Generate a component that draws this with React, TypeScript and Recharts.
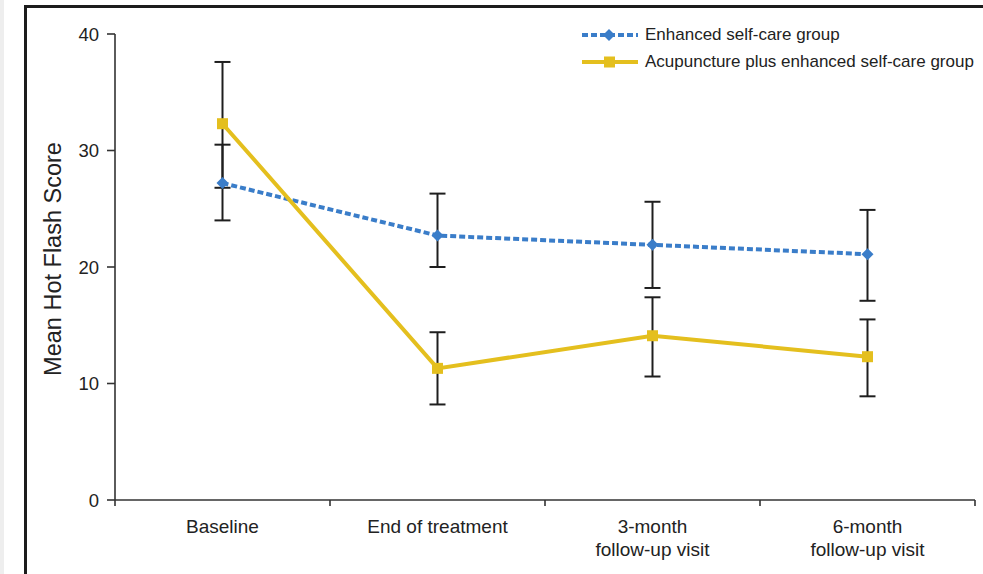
import React from 'react';
import { LineChart, Line, XAxis, YAxis, ErrorBar, Legend } from 'recharts';

const categories = ['Baseline', 'End of treatment', '3-month\nfollow-up visit', '6-month\nfollow-up visit'];
const seriesNames = ['Enhanced self-care group', 'Acupuncture plus enhanced self-care group'];
const selfCareMean = [27.2, 22.7, 21.9, 21.1];
const selfCareLow = [24.0, 20.0, 18.2, 17.1];
const selfCareHigh = [30.5, 26.3, 25.6, 24.9];
const acuMean = [32.3, 11.3, 14.1, 12.3];
const acuLow = [26.8, 8.2, 10.6, 8.9];
const acuHigh = [37.6, 14.4, 17.4, 15.5];
const yTicks = [0, 10, 20, 30, 40];
const xEdgeTicks = [0, 0.5, 1, 1.5, 2, 2.5, 3, 3.5, 4];

const BLUE = '#3a7dc9';
const YELLOW = '#e4bf1e';
const FONT = '"Liberation Sans", Arial, Helvetica, sans-serif';

const data = categories.map((c, i) => ({
  x: i + 0.5,
  name: c,
  sc: selfCareMean[i],
  scErr: [selfCareMean[i] - selfCareLow[i], selfCareHigh[i] - selfCareMean[i]],
  acu: acuMean[i],
  acuErr: [acuMean[i] - acuLow[i], acuHigh[i] - acuMean[i]],
}));

const XTick = (props: any) => {
  const { x, y, payload } = props;
  const v = payload.value;
  if (Number.isInteger(v)) {
    return <line x1={x} x2={x} y1={y - 8} y2={y - 2} stroke="#333" strokeWidth={1.6} />;
  }
  const lines = categories[Math.floor(v)].split('\n');
  return (
    <text x={x} y={y} textAnchor="middle" fill="#222" fontSize={19} fontFamily={FONT}>
      {lines.map((l, i) => (
        <tspan key={i} x={x} dy={i === 0 ? 25 : 23}>{l}</tspan>
      ))}
    </text>
  );
};

const DiamondDot = (p: any) => {
  const { cx, cy, index } = p;
  const r = 6;
  return (
    <polygon key={`d-${index}`} points={`${cx},${cy - r} ${cx + r},${cy} ${cx},${cy + r} ${cx - r},${cy}`} fill={BLUE} />
  );
};

const SquareDot = (p: any) => {
  const { cx, cy, index } = p;
  return <rect key={`s-${index}`} x={cx - 5.5} y={cy - 5.5} width={11} height={11} fill={YELLOW} />;
};

const LegendContent = () => (
  <div style={{ fontFamily: FONT, fontSize: 17, color: '#222', whiteSpace: 'nowrap' }}>
    <div style={{ display: 'flex', alignItems: 'center', height: 27 }}>
      <svg width={56} height={14} style={{ marginRight: 7 }}>
        <line x1={0} x2={56} y1={7} y2={7} stroke={BLUE} strokeWidth={4} strokeDasharray="6 3" />
        <polygon points="27,1 33,7 27,13 21,7" fill={BLUE} />
      </svg>
      <span>{seriesNames[0]}</span>
    </div>
    <div style={{ display: 'flex', alignItems: 'center', height: 27 }}>
      <svg width={56} height={14} style={{ marginRight: 7 }}>
        <line x1={0} x2={56} y1={7} y2={7} stroke={YELLOW} strokeWidth={4} />
        <rect x={22} y={1.5} width={11} height={11} fill={YELLOW} />
      </svg>
      <span>{seriesNames[1]}</span>
    </div>
  </div>
);

export default function App() {
  return (
    <div style={{ position: 'absolute', left: 0, top: 0, width: 983, height: 574, background: '#fff', overflow: 'hidden' }}>
      <div style={{ position: 'absolute', left: 0, top: 0, width: 4, height: 574, background: '#eeeeee' }} />
      <div
        style={{
          position: 'absolute',
          left: 24,
          top: 5,
          width: 1000,
          height: 600,
          borderTop: '3px solid #1c1c1c',
          borderLeft: '3px solid #1c1c1c',
        }}
      />
      <div style={{ position: 'absolute', left: 0, top: 0 }}>
        <LineChart width={983} height={574} data={data} margin={{ top: 34, right: 8, left: 55, bottom: 30 }}>
          <XAxis
            dataKey="x"
            type="number"
            domain={[0, 4]}
            ticks={xEdgeTicks}
            interval={0}
            tickLine={false}
            tick={<XTick />}
            height={44}
            axisLine={{ stroke: '#333', strokeWidth: 1.6 }}
          />
          <YAxis
            domain={[0, 40]}
            ticks={yTicks}
            interval={0}
            width={60}
            tickSize={8}
            tickMargin={8}
            tick={{ fill: '#222', fontSize: 18.5, fontFamily: FONT }}
            tickLine={{ stroke: '#333', strokeWidth: 1.6 }}
            axisLine={{ stroke: '#333', strokeWidth: 1.6 }}
            label={{
              content: () => (
                <text
                  x={61}
                  y={259}
                  transform="rotate(-90 61 259)"
                  textAnchor="middle"
                  fontSize={23.5}
                  fontFamily={FONT}
                  fill="#222"
                >
                  Mean Hot Flash Score
                </text>
              ),
            }}
          />
          <Legend
            layout="vertical"
            align="center"
            verticalAlign="middle"
            content={<LegendContent />}
            wrapperStyle={{ left: 582, top: 21, width: 400, height: 60 }}
          />
          <Line
            dataKey="sc"
            name={seriesNames[0]}
            stroke={BLUE}
            strokeWidth={4}
            strokeDasharray="6 3"
            dot={DiamondDot}
            activeDot={false}
            isAnimationActive={false}
          >
            <ErrorBar dataKey="scErr" direction="y" width={8} stroke="#1e1e1e" strokeWidth={2} />
          </Line>
          <Line
            dataKey="acu"
            name={seriesNames[1]}
            stroke={YELLOW}
            strokeWidth={4}
            dot={SquareDot}
            activeDot={false}
            isAnimationActive={false}
          >
            <ErrorBar dataKey="acuErr" direction="y" width={8} stroke="#1e1e1e" strokeWidth={2} />
          </Line>
        </LineChart>
      </div>
    </div>
  );
}
